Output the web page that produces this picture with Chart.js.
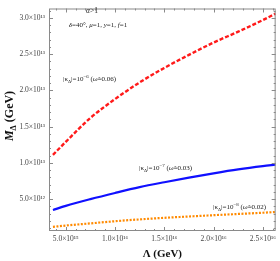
<!DOCTYPE html>
<html>
<head>
<meta charset="utf-8">
<script src="https://cdn.jsdelivr.net/npm/chart.js@4.4.0/dist/chart.umd.min.js"></script>
<style>
  html, body { margin: 0; padding: 0; background: #fff; }
</style>
</head>
<body>
<canvas id="chart" width="280" height="261"></canvas>
<script>
// ============ data ============
const LAMBDA = [3.7e15, 5e15, 7.5e15, 10e15, 12.5e15, 15e15, 17.5e15, 20e15, 22.5e15, 25e15, 26.3e15];
const M_K6 = [11.1e12, 12.9e12, 16.2e12, 18.8e12, 21.1e12, 23.1e12, 24.9e12, 26.6e12, 28.1e12, 29.7e12, 30.6e12];
const M_K7 = [3.5e12, 4.07e12, 5.0e12, 5.85e12, 6.65e12, 7.33e12, 7.97e12, 8.56e12, 9.1e12, 9.55e12, 9.75e12];
const M_K8 = [1.17e12, 1.35e12, 1.65e12, 1.95e12, 2.2e12, 2.42e12, 2.6e12, 2.78e12, 2.95e12, 3.12e12, 3.22e12];

const X_TICKS = [5e15, 1e16, 1.5e16, 2e16, 2.5e16];
const X_LABELS = ["5.0×10¹⁵", "1.0×10¹⁶", "1.5×10¹⁶", "2.0×10¹⁶", "2.5×10¹⁶"];
const Y_TICKS = [5e12, 1e13, 1.5e13, 2e13, 2.5e13, 3e13];
const Y_LABELS = ["5.0×10¹²", "1.0×10¹³", "1.5×10¹³", "2.0×10¹³", "2.5×10¹³", "3.0×10¹³"];

const X_MIN = 3.3e15, X_MAX = 26.3e15;
const Y_MIN = 0.6e12, Y_MAX = 31.3e12;

const SERIF = '"Liberation Serif", "DejaVu Serif", serif';

function pts(ys) {
  return LAMBDA.map((x, i) => ({ x: x, y: ys[i] }));
}

// rich text: parts = [{t, it, b, pos}] pos: 'sup' | 'sub' | undefined
function drawRich(ctx, parts, x, y, size, align) {
  const fontOf = p => {
    const s = p.pos ? size * 0.7 : size;
    return `${p.it ? "italic " : ""}${p.b ? "bold " : ""}${s}px ${SERIF}`;
  };
  let total = 0;
  parts.forEach(p => { ctx.font = fontOf(p); p.w = ctx.measureText(p.t).width; total += p.w; });
  let cx = align === "center" ? x - total / 2 : x;
  ctx.textBaseline = "alphabetic";
  ctx.textAlign = "left";
  parts.forEach(p => {
    ctx.font = fontOf(p);
    let dy = 0;
    if (p.pos === "sup") dy = -size * 0.38;
    if (p.pos === "sub") dy = size * 0.22;
    ctx.fillText(p.t, cx, y + dy);
    cx += p.w;
  });
}

const framePlugin = {
  id: "frame",
  afterDraw(chart) {
    const ctx = chart.ctx;
    const a = chart.chartArea;
    const xs = chart.scales.x, ys = chart.scales.y;
    ctx.save();
    ctx.strokeStyle = "#8a8a8a";
    ctx.lineWidth = 1;
    ctx.strokeRect(a.left + 0.5, a.top + 0.5, a.right - a.left - 1, a.bottom - a.top - 1);

    // ticks on all four sides, pointing inward
    ctx.beginPath();
    for (let v = 4e15; v <= X_MAX; v += 1e15) {
      const major = Math.abs(v % 5e15) < 1;
      const len = major ? 4 : 2;
      const px = Math.round(xs.getPixelForValue(v)) + 0.5;
      ctx.moveTo(px, a.bottom); ctx.lineTo(px, a.bottom - len);
      ctx.moveTo(px, a.top); ctx.lineTo(px, a.top + len);
    }
    for (let v = 1e12; v <= Y_MAX; v += 1e12) {
      const major = Math.abs(v % 5e12) < 1;
      const len = major ? 4 : 2;
      const py = Math.round(ys.getPixelForValue(v)) + 0.5;
      ctx.moveTo(a.left, py); ctx.lineTo(a.left + len, py);
      ctx.moveTo(a.right, py); ctx.lineTo(a.right - len, py);
    }
    ctx.stroke();

    ctx.fillStyle = "#111";
    // axis titles
    drawRich(ctx, [{ t: "Λ (GeV)", b: true }], (a.left + a.right) / 2, 257, 11, "center");
    ctx.save();
    ctx.translate(13, 116);
    ctx.rotate(-Math.PI / 2);
    drawRich(ctx, [{ t: "M", b: true, it: true }, { t: "Δ", b: true, pos: "sub" }, { t: " (GeV)", b: true }], 0, 0, 12, "center");
    ctx.restore();

    // annotations
    ctx.fillStyle = "#222";
    drawRich(ctx, [{ t: "α", it: true }, { t: ">1" }], 92, 13, 7.5, "center");
    drawRich(ctx, [
      { t: "δ", it: true }, { t: "=40°, " }, { t: "μ", it: true }, { t: "=1, " },
      { t: "y", it: true }, { t: "=1, " }, { t: "f", it: true }, { t: "=1" }
    ], 98, 27, 7, "center");
    const kap = (e, w) => [
      { t: "|κ" }, { t: "Δ", pos: "sub" }, { t: "|=10" }, { t: e, pos: "sup" },
      { t: " (" }, { t: "ω̃", it: true }, { t: "=" + w + ")" }
    ];
    drawRich(ctx, kap("−6", "0.06"), 63, 81, 7, "left");
    drawRich(ctx, kap("−7", "0.03"), 139, 170, 7, "left");
    drawRich(ctx, kap("−8", "0.02"), 213, 209, 7, "left");
    ctx.restore();
  }
};

new Chart(document.getElementById("chart"), {
  type: "scatter",
  data: {
    datasets: [
      { data: pts(M_K6), borderColor: "#ff1a1a", borderWidth: 2.4, borderDash: [4, 2] },
      { data: pts(M_K7), borderColor: "#1010ff", borderWidth: 2.2 },
      { data: pts(M_K8), borderColor: "#ff8a00", borderWidth: 2.2, borderDash: [2, 1.5] }
    ].map(d => Object.assign(d, { showLine: true, pointRadius: 0, cubicInterpolationMode: "monotone", fill: false }))
  },
  options: {
    responsive: false,
    animation: false,
    devicePixelRatio: 1,
    layout: { padding: { top: 1, right: 3, left: 0, bottom: 0 } },
    plugins: { legend: { display: false }, tooltip: { enabled: false } },
    scales: {
      x: {
        type: "linear", min: X_MIN, max: X_MAX,
        grid: { display: false, drawTicks: false }, border: { display: false },
        afterBuildTicks: s => { s.ticks = X_TICKS.map(v => ({ value: v })); },
        afterFit: s => { s.height = 30; },
        ticks: {
          autoSkip: false, maxRotation: 0, padding: 4, color: "#444",
          font: { family: SERIF, size: 7.5 },
          callback: v => X_LABELS[X_TICKS.indexOf(v)]
        }
      },
      y: {
        type: "linear", min: Y_MIN, max: Y_MAX,
        grid: { display: false, drawTicks: false }, border: { display: false },
        afterBuildTicks: s => { s.ticks = Y_TICKS.map(v => ({ value: v })); },
        afterFit: s => { s.width = 49; },
        ticks: {
          autoSkip: false, padding: 4, color: "#444",
          font: { family: SERIF, size: 7.5 },
          callback: v => Y_LABELS[Y_TICKS.indexOf(v)]
        }
      }
    }
  },
  plugins: [framePlugin]
});
</script>
</body>
</html>
